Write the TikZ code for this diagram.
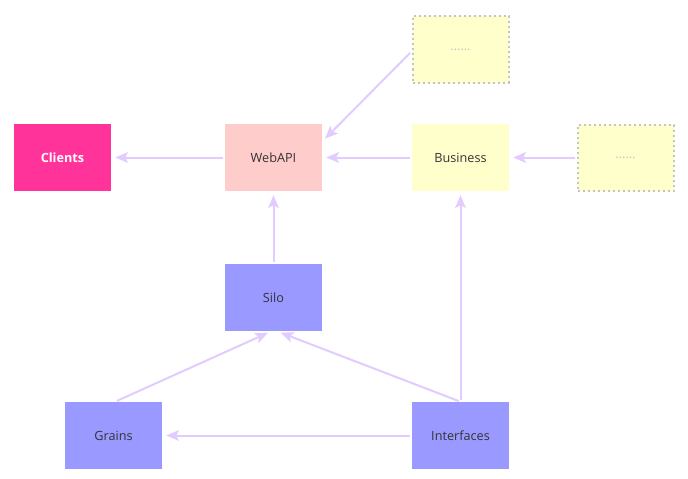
\documentclass[tikz,border=0pt]{standalone}
\usepackage{fontspec}
\setmainfont{Open Sans}
\usetikzlibrary{arrows.meta,calc}
\definecolor{edgec}{HTML}{E2CCFF}
\definecolor{clientc}{HTML}{FF3399}
\definecolor{webc}{HTML}{FFCCCC}
\definecolor{bizc}{HTML}{FFFFCC}
\definecolor{siloc}{HTML}{9999FF}
\definecolor{txtc}{HTML}{333333}
\definecolor{dotc}{HTML}{C4C4C4}
\tikzset{
  box/.style={minimum width=72.75pt, minimum height=50.25pt, inner sep=0pt, font=\fontsize{9.5}{11}\selectfont, text=txtc},
  dotbox/.style={box, fill=bizc, draw=dotc, line width=1.5pt, dash pattern=on 1.5pt off 2.25pt, minimum width=72pt, minimum height=49.5pt, text=dotc},
  conn/.style={draw=edgec, line width=1.5pt, -{Stealth[length=9.5pt,width=8pt,inset=2pt]}, shorten <=1.5pt, shorten >=3pt}
}
\begin{document}
\begin{tikzpicture}[x=0.75pt,y=-0.75pt]
\useasboundingbox (0,0) rectangle (688,478);
\node[box, fill=clientc, text=white, font=\fontsize{9.5}{11}\selectfont\bfseries] (cli) at (62.5,157.5) {Clients};
\node[box, fill=webc] (web) at (273.5,157.5) {WebAPI};
\node[box, fill=bizc] (biz) at (460.5,157.5) {Business};
\node[dotbox] (dtop) at (460.5,49.5) {......};
\node[dotbox] (dright) at (625.5,157.5) {......};
\node[box, fill=siloc] (silo) at (273.5,297.5) {Silo};
\node[box, fill=siloc] (gra) at (113.5,435.5) {Grains};
\node[box, fill=siloc] (intf) at (460.5,435.5) {Interfaces};
\draw[conn] (web.west) -- (cli.east);
\draw[conn] (biz.west) -- (web.east);
\draw[conn] ([shift={(0,2)}]dtop.west) -- ([shift={(0,-16)}]web.east);
\draw[conn] (dright.west) -- (biz.east);
\draw[conn] (silo.north) -- (web.south);
\draw[conn] ([shift={(1.5,0)}]gra.north) -- ([shift={(-2,0)}]silo.south);
\draw[conn] (intf.north) -- ([shift={(3.5,0)}]silo.south);
\draw[conn] (intf.north) -- (biz.south);
\draw[conn] (intf.west) -- (gra.east);
\end{tikzpicture}
\end{document}
